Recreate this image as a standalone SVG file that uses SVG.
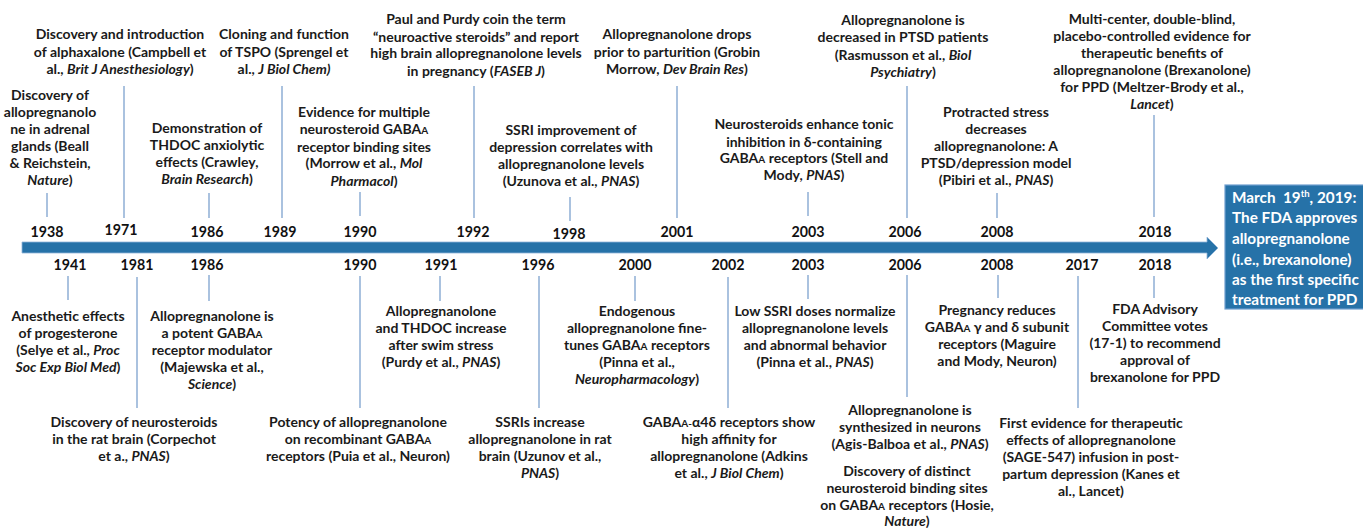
<svg xmlns="http://www.w3.org/2000/svg" width="1363" height="528" viewBox="0 0 1363 528">
<style>
.t{font-family:Lato,"Liberation Sans",sans-serif;font-weight:bold;font-size:14px;fill:#1a1a1a;text-anchor:middle}
.y{font-family:Lato,"Liberation Sans",sans-serif;font-weight:bold;font-size:16px;fill:#111;text-anchor:middle}
.i{font-style:italic}
.s{font-size:10px}
.tick{stroke:#95b3d7;stroke-width:1.6;fill:none}
.box{font-family:Lato,"Liberation Sans",sans-serif;font-weight:bold;font-size:15.3px;fill:#fff}
</style>
<rect width="1363" height="528" fill="#fff"/>
<g id="timeline">
<path d="M22,242 H1207 V237 L1218,248 L1207,259 V253 H22 Z" fill="#2672a8" stroke="#8fb4d9" stroke-width="0.8"/>
</g>
<g id="connectors">
<line class="tick" x1="47" y1="193" x2="47" y2="217"/>
<line class="tick" x1="124" y1="86" x2="124" y2="218"/>
<line class="tick" x1="209" y1="193" x2="209" y2="218"/>
<line class="tick" x1="282" y1="86" x2="282" y2="218"/>
<line class="tick" x1="360" y1="192" x2="360" y2="216"/>
<line class="tick" x1="474" y1="86" x2="474" y2="218"/>
<line class="tick" x1="570" y1="197" x2="570" y2="221"/>
<line class="tick" x1="677" y1="86" x2="677" y2="218"/>
<line class="tick" x1="808" y1="192" x2="808" y2="216"/>
<line class="tick" x1="907" y1="86" x2="907" y2="218"/>
<line class="tick" x1="997" y1="193" x2="997" y2="218"/>
<line class="tick" x1="1154" y1="115" x2="1154" y2="217"/>
<line class="tick" x1="68" y1="276" x2="68" y2="300"/>
<line class="tick" x1="137" y1="277" x2="137" y2="408"/>
<line class="tick" x1="209" y1="275" x2="209" y2="301"/>
<line class="tick" x1="360" y1="276" x2="360" y2="408"/>
<line class="tick" x1="440" y1="276" x2="440" y2="301"/>
<line class="tick" x1="539" y1="276" x2="539" y2="408"/>
<line class="tick" x1="635" y1="276" x2="635" y2="301"/>
<line class="tick" x1="728" y1="277" x2="728" y2="408"/>
<line class="tick" x1="808" y1="275" x2="808" y2="299"/>
<line class="tick" x1="907" y1="275" x2="907" y2="397"/>
<line class="tick" x1="998" y1="275" x2="998" y2="298"/>
<line class="tick" x1="1078" y1="276" x2="1078" y2="408"/>
<line class="tick" x1="1154" y1="276" x2="1154" y2="298"/>
</g>
<g id="e1938">
<text class="y" x="47" y="237" textLength="33" lengthAdjust="spacingAndGlyphs">1938</text>
<text class="t"><tspan x="50" y="100">Discovery of</tspan><tspan x="50" y="117">allopregnanolo</tspan><tspan x="50" y="134">ne in adrenal</tspan><tspan x="50" y="151">glands (Beall</tspan><tspan x="50" y="168">&amp; Reichstein,</tspan><tspan x="50" y="185"><tspan class="i">Nature</tspan>)</tspan></text>
</g>
<g id="e1971">
<text class="y" x="121" y="235" textLength="33" lengthAdjust="spacingAndGlyphs">1971</text>
<text class="t"><tspan x="120" y="39">Discovery and introduction</tspan><tspan x="120" y="57">of alphaxalone (Campbell et</tspan><tspan x="120" y="74">al., <tspan class="i">Brit J Anesthesiology</tspan>)</tspan></text>
</g>
<g id="e1986a">
<text class="y" x="207" y="237" textLength="33" lengthAdjust="spacingAndGlyphs">1986</text>
<text class="t"><tspan x="207" y="133">Demonstration of</tspan><tspan x="207" y="150">THDOC anxiolytic</tspan><tspan x="207" y="167">effects (Crawley,</tspan><tspan x="207" y="184"><tspan class="i">Brain Research</tspan>)</tspan></text>
</g>
<g id="e1989">
<text class="y" x="280" y="237" textLength="33" lengthAdjust="spacingAndGlyphs">1989</text>
<text class="t"><tspan x="284" y="39">Cloning and function</tspan><tspan x="284" y="57">of TSPO (Sprengel et</tspan><tspan x="284" y="74">al., <tspan class="i">J Biol Chem)</tspan></tspan></text>
</g>
<g id="e1990a">
<text class="y" x="360" y="237" textLength="33" lengthAdjust="spacingAndGlyphs">1990</text>
<text class="t"><tspan x="364" y="117">Evidence for multiple</tspan><tspan x="364" y="134">neurosteroid GABA<tspan class="s">A</tspan></tspan><tspan x="364" y="152">receptor binding sites</tspan><tspan x="364" y="168">(Morrow et al., <tspan class="i">Mol</tspan></tspan><tspan x="364" y="186"><tspan class="i">Pharmacol</tspan>)</tspan></text>
</g>
<g id="e1992">
<text class="y" x="473" y="237" textLength="33" lengthAdjust="spacingAndGlyphs">1992</text>
<text class="t"><tspan x="476" y="24">Paul and Purdy coin the term</tspan><tspan x="476" y="42">“neuroactive steroids” and report</tspan><tspan x="476" y="58">high brain allopregnanolone levels</tspan><tspan x="476" y="76">in pregnancy (<tspan class="i">FASEB J</tspan>)</tspan></text>
</g>
<g id="e1998">
<text class="y" x="569" y="239" textLength="33" lengthAdjust="spacingAndGlyphs">1998</text>
<text class="t"><tspan x="571" y="135">SSRI improvement of</tspan><tspan x="571" y="152">depression correlates with</tspan><tspan x="571" y="169">allopregnanolone levels</tspan><tspan x="571" y="186">(Uzunova et al., <tspan class="i">PNAS</tspan>)</tspan></text>
</g>
<g id="e2001">
<text class="y" x="677" y="237" textLength="33" lengthAdjust="spacingAndGlyphs">2001</text>
<text class="t"><tspan x="677" y="39">Allopregnanolone drops</tspan><tspan x="677" y="57">prior to parturition (Grobin</tspan><tspan x="677" y="74">Morrow, <tspan class="i">Dev Brain Res</tspan>)</tspan></text>
</g>
<g id="e2003a">
<text class="y" x="808" y="237" textLength="33" lengthAdjust="spacingAndGlyphs">2003</text>
<text class="t"><tspan x="804" y="129">Neurosteroids enhance tonic</tspan><tspan x="804" y="147">inhibition in δ-containing</tspan><tspan x="804" y="163">GABA<tspan class="s">A</tspan> receptors (Stell and</tspan><tspan x="804" y="180">Mody, <tspan class="i">PNAS</tspan>)</tspan></text>
</g>
<g id="e2006a">
<text class="y" x="905" y="237" textLength="33" lengthAdjust="spacingAndGlyphs">2006</text>
<text class="t"><tspan x="903" y="25">Allopregnanolone is</tspan><tspan x="903" y="42">decreased in PTSD patients</tspan><tspan x="903" y="60">(Rasmusson et al., <tspan class="i">Biol</tspan></tspan><tspan x="903" y="77"><tspan class="i">Psychiatry</tspan>)</tspan></text>
</g>
<g id="e2008a">
<text class="y" x="997" y="237" textLength="33" lengthAdjust="spacingAndGlyphs">2008</text>
<text class="t"><tspan x="996" y="117">Protracted stress</tspan><tspan x="996" y="134">decreases</tspan><tspan x="996" y="151">allopregnanolone: A</tspan><tspan x="996" y="168">PTSD/depression model</tspan><tspan x="996" y="185">(Pibiri et al., <tspan class="i">PNAS</tspan>)</tspan></text>
</g>
<g id="e2018a">
<text class="y" x="1155" y="237" textLength="33" lengthAdjust="spacingAndGlyphs">2018</text>
<text class="t"><tspan x="1152" y="24">Multi-center, double-blind,</tspan><tspan x="1152" y="41">placebo-controlled evidence for</tspan><tspan x="1152" y="58">therapeutic benefits of</tspan><tspan x="1152" y="75">allopregnanolone (Brexanolone)</tspan><tspan x="1152" y="92">for PPD (Meltzer-Brody et al.,</tspan><tspan x="1152" y="109"><tspan class="i">Lancet</tspan>)</tspan></text>
</g>
<g id="e1941">
<text class="y" x="70" y="270" textLength="33" lengthAdjust="spacingAndGlyphs">1941</text>
<text class="t"><tspan x="68" y="321">Anesthetic effects</tspan><tspan x="68" y="338">of progesterone</tspan><tspan x="68" y="355">(Selye et al., <tspan class="i">Proc</tspan></tspan><tspan x="68" y="372"><tspan class="i">Soc Exp Biol Med</tspan>)</tspan></text>
</g>
<g id="e1981">
<text class="y" x="137" y="270" textLength="33" lengthAdjust="spacingAndGlyphs">1981</text>
<text class="t"><tspan x="134" y="427">Discovery of neurosteroids</tspan><tspan x="134" y="444">in the rat brain (Corpechot</tspan><tspan x="134" y="461">et a., <tspan class="i">PNAS</tspan>)</tspan></text>
</g>
<g id="e1986b">
<text class="y" x="207" y="270" textLength="33" lengthAdjust="spacingAndGlyphs">1986</text>
<text class="t"><tspan x="212" y="321">Allopregnanolone is</tspan><tspan x="212" y="338">a potent GABA<tspan class="s">A</tspan></tspan><tspan x="212" y="355">receptor modulator</tspan><tspan x="212" y="372">(Majewska et al.,</tspan><tspan x="212" y="389"><tspan class="i">Science</tspan>)</tspan></text>
</g>
<g id="e1990b">
<text class="y" x="360" y="270" textLength="33" lengthAdjust="spacingAndGlyphs">1990</text>
<text class="t"><tspan x="358" y="427">Potency of allopregnanolone</tspan><tspan x="358" y="444">on recombinant GABA<tspan class="s">A</tspan></tspan><tspan x="358" y="461">receptors (Puia et al., Neuron)</tspan></text>
</g>
<g id="e1991">
<text class="y" x="441" y="270" textLength="33" lengthAdjust="spacingAndGlyphs">1991</text>
<text class="t"><tspan x="441" y="316">Allopregnanolone</tspan><tspan x="441" y="333">and THDOC increase</tspan><tspan x="441" y="350">after swim stress</tspan><tspan x="441" y="367">(Purdy et al., <tspan class="i">PNAS</tspan>)</tspan></text>
</g>
<g id="e1996">
<text class="y" x="538" y="270" textLength="33" lengthAdjust="spacingAndGlyphs">1996</text>
<text class="t"><tspan x="540" y="427">SSRIs increase</tspan><tspan x="540" y="444">allopregnanolone in rat</tspan><tspan x="540" y="461">brain (Uzunov et al.,</tspan><tspan x="540" y="478"><tspan class="i">PNAS</tspan>)</tspan></text>
</g>
<g id="e2000">
<text class="y" x="635" y="270" textLength="33" lengthAdjust="spacingAndGlyphs">2000</text>
<text class="t"><tspan x="637" y="316">Endogenous</tspan><tspan x="637" y="333">allopregnanolone fine-</tspan><tspan x="637" y="350">tunes GABA<tspan class="s">A</tspan> receptors</tspan><tspan x="637" y="367">(Pinna et al.,</tspan><tspan x="637" y="384"><tspan class="i">Neuropharmacology</tspan>)</tspan></text>
</g>
<g id="e2002">
<text class="y" x="728" y="270" textLength="33" lengthAdjust="spacingAndGlyphs">2002</text>
<text class="t"><tspan x="729" y="427">GABA<tspan class="s">A-</tspan>α4δ receptors show</tspan><tspan x="729" y="444">high affinity for</tspan><tspan x="729" y="461">allopregnanolone (Adkins</tspan><tspan x="729" y="478">et al., <tspan class="i">J Biol Chem</tspan>)</tspan></text>
</g>
<g id="e2003b">
<text class="y" x="808" y="270" textLength="33" lengthAdjust="spacingAndGlyphs">2003</text>
<text class="t"><tspan x="815" y="316">Low SSRI doses normalize</tspan><tspan x="815" y="333">allopregnanolone levels</tspan><tspan x="815" y="350">and abnormal behavior</tspan><tspan x="815" y="367">(Pinna et al., <tspan class="i">PNAS</tspan>)</tspan></text>
</g>
<g id="e2006b">
<text class="y" x="905" y="270" textLength="33" lengthAdjust="spacingAndGlyphs">2006</text>
<text class="t"><tspan x="910" y="415">Allopregnanolone is</tspan><tspan x="910" y="432">synthesized in neurons</tspan><tspan x="910" y="449">(Agis-Balboa et al., <tspan class="i">PNAS</tspan>)</tspan></text>
<text class="t"><tspan x="907" y="476">Discovery of distinct</tspan><tspan x="907" y="493">neurosteroid binding sites</tspan><tspan x="907" y="510">on GABA<tspan class="s">A</tspan> receptors (Hosie,</tspan><tspan x="907" y="526"><tspan class="i">Nature</tspan>)</tspan></text>
</g>
<g id="e2008b">
<text class="y" x="997" y="270" textLength="33" lengthAdjust="spacingAndGlyphs">2008</text>
<text class="t"><tspan x="997" y="315">Pregnancy reduces</tspan><tspan x="997" y="332">GABA<tspan class="s">A</tspan> γ and δ subunit</tspan><tspan x="997" y="349">receptors (Maguire</tspan><tspan x="997" y="366">and Mody, Neuron)</tspan></text>
</g>
<g id="e2017">
<text class="y" x="1082" y="270" textLength="33" lengthAdjust="spacingAndGlyphs">2017</text>
<text class="t"><tspan x="1091" y="428">First evidence for therapeutic</tspan><tspan x="1091" y="445">effects of allopregnanolone</tspan><tspan x="1091" y="462">(SAGE-547) infusion in post-</tspan><tspan x="1091" y="479">partum depression (Kanes et</tspan><tspan x="1091" y="496">al., Lancet)</tspan></text>
</g>
<g id="e2018b">
<text class="y" x="1155" y="270" textLength="33" lengthAdjust="spacingAndGlyphs">2018</text>
<text class="t"><tspan x="1155" y="314">FDA Advisory</tspan><tspan x="1155" y="331">Committee votes</tspan><tspan x="1155" y="348">(17-1) to recommend</tspan><tspan x="1155" y="365">approval of</tspan><tspan x="1155" y="382">brexanolone for PPD</tspan></text>
</g>
<g id="fda">
<rect x="1225" y="185" width="140" height="124" fill="#2672a8" stroke="#6f9fcf" stroke-width="1.2"/>
<text class="box"><tspan x="1232" y="203">March&#160; 19<tspan font-size="9.5" dy="-6">th</tspan><tspan dy="6">, 2019:</tspan></tspan><tspan x="1232" y="223">The FDA approves</tspan><tspan x="1232" y="244">allopregnanolone</tspan><tspan x="1232" y="265">(i.e., brexanolone)</tspan><tspan x="1232" y="285">as the first specific</tspan><tspan x="1232" y="305">treatment for PPD</tspan></text>
</g>
</svg>
